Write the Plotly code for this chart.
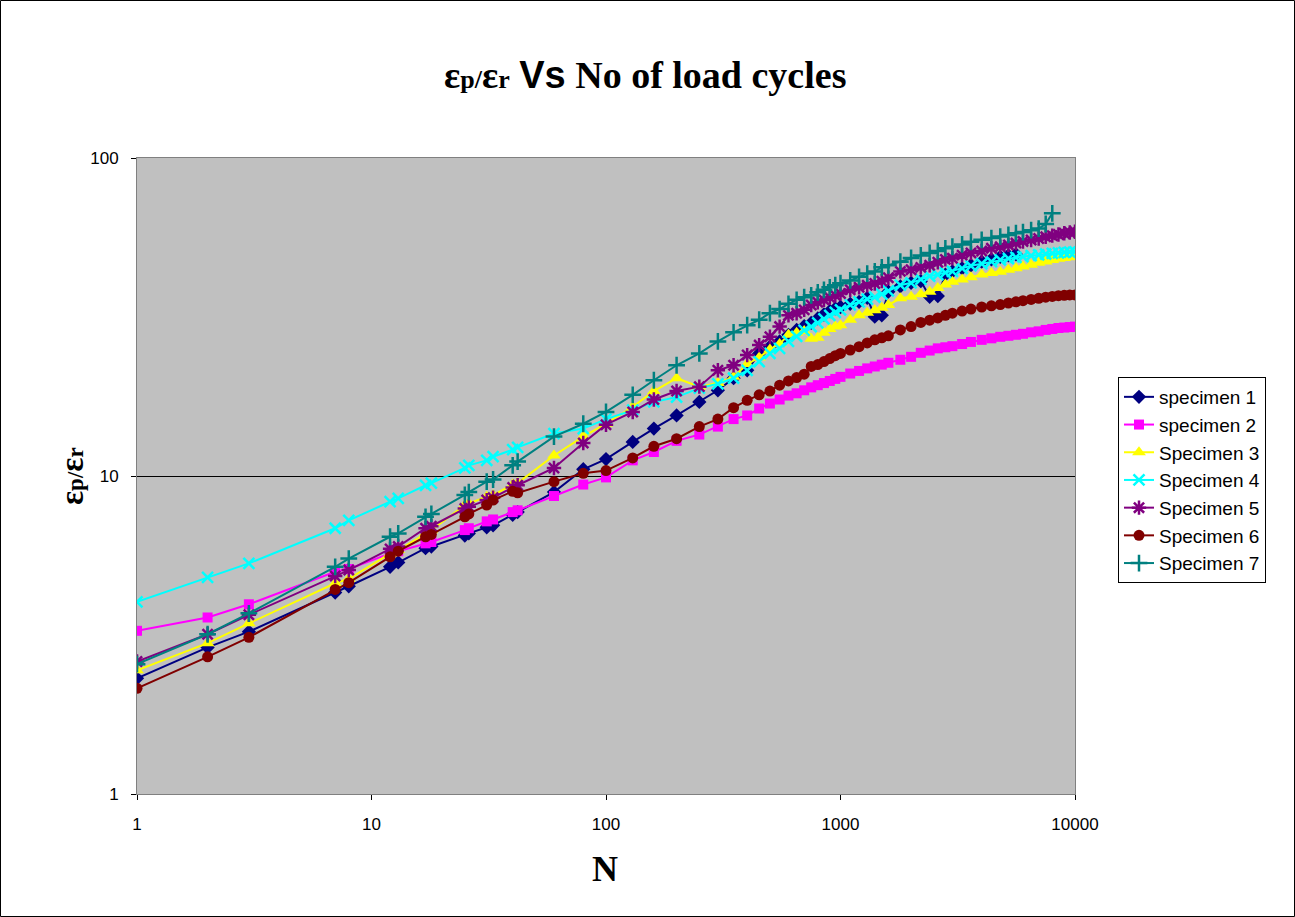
import plotly.graph_objects as go

# Load cycle counts at which the strain ratio was recorded
cycles = [1, 2, 3, 7, 8, 12, 13, 17, 18, 25, 26, 31, 33, 40, 42,
          60, 80, 100, 130, 160, 200, 250, 300, 350, 400, 450, 500,
          550, 600, 650, 700, 750, 800, 850, 900, 950, 1000,
          1100, 1200, 1300, 1400, 1500, 1600, 1800, 2000, 2200, 2400,
          2600, 2800, 3000, 3300, 3600, 4000, 4400, 4800, 5200, 5600,
          6000, 6500, 7000, 7500, 8000, 8500, 9000, 9500, 10000]

specimen_1 = [2.31, 2.89, 3.24, 4.3, 4.5, 5.18, 5.35, 5.93, 6.0, 6.5, 6.6, 6.9, 7.0, 7.55, 7.7,
              8.9, 10.5, 11.3, 12.8, 14.1, 15.5, 17.1, 18.6, 20.3, 21.5, 24.3, 25.5,
              26.5, 27.8, 28.8, 29.6, 30.3, 31.3, 32.2, 33.0, 33.6, 34.0,
              34.8, 35.3, 36.3, 31.7, 32.0, 38.0, 39.5, 40.5, 41.0, 36.6,
              36.8, 43.0, 44.0, 45.0, 46.0, 47.2, 48.0, 48.9, 49.4, 49.8]

specimen_2 = [3.26, 3.59, 3.95, 5.0, 5.1, 5.71, 5.8, 6.14, 6.2, 6.76, 6.85, 7.2, 7.3, 7.7, 7.8,
              8.65, 9.4, 9.9, 11.2, 11.9, 12.9, 13.5, 14.3, 15.1, 15.5, 16.3, 16.9,
              17.4, 17.9, 18.2, 18.6, 19.0, 19.3, 19.6, 19.9, 20.2, 20.5,
              21.0, 21.4, 21.8, 22.1, 22.4, 22.7, 23.2, 23.7, 24.4, 24.8,
              25.2, 25.4, 25.6, 26.0, 26.4, 26.8, 27.1, 27.4, 27.6, 27.8,
              28.0, 28.3, 28.5, 28.8, 29.0, 29.2, 29.3, 29.4, 29.5]

specimen_3 = [2.45, 2.98, 3.44, 4.6, 4.75, 5.7, 5.85, 6.6, 6.75, 8.1, 8.2, 8.6, 8.7, 9.4, 9.5,
              11.6, 13.3, 14.6, 16.5, 18.5, 20.3, 19.1, 19.6, 20.5, 22.5, 23.6, 25.0,
              26.0, 27.8, 28.2, 28.6, 27.0, 27.2, 28.2, 29.0, 29.5, 29.8,
              31.0, 32.0, 32.6, 33.2, 33.8, 34.5, 36.2, 36.6, 37.3, 38.0,
              39.0, 40.0, 40.8, 41.5, 42.2, 43.0, 43.5, 43.9, 44.5, 45.0,
              45.6, 46.2, 46.8, 47.3, 47.8, 48.2, 48.5, 48.7, 48.9]

specimen_4 = [4.02, 4.80, 5.31, 6.85, 7.25, 8.3, 8.5, 9.35, 9.5, 10.6, 10.8, 11.2, 11.5, 12.1, 12.3,
              13.6, 14.1, 15.1, 16.1, 17.1, 17.7, 18.9, 19.5, 20.3, 21.5, 22.9, 24.3,
              25.2, 26.5, 27.5, 28.7, 29.5, 30.3, 31.2, 32.0, 32.7, 33.3,
              34.5, 35.3, 36.0, 36.5, 37.3, 38.2, 39.8, 40.5, 41.5, 42.5,
              43.0, 43.6, 44.0, 45.0, 45.8, 46.5, 47.2, 47.8, 48.3, 48.7,
              49.0, 49.3, 49.6, 49.9, 50.1, 50.3, 50.5, 50.6, 50.7]

specimen_5 = [2.61, 3.18, 3.66, 4.85, 5.06, 5.9, 6.0, 6.85, 6.95, 7.9, 8.0, 8.4, 8.55, 9.2, 9.35,
              10.6, 12.7, 14.5, 15.9, 17.4, 18.5, 19.1, 21.5, 22.3, 24.0, 25.8, 27.4,
              29.5, 32.0, 32.5, 33.3, 34.5, 35.2, 35.8, 36.4, 37.0, 37.5,
              38.5, 39.2, 39.8, 40.3, 41.0, 42.0, 44.0, 44.5, 45.3, 46.0,
              47.0, 48.0, 48.4, 49.5, 50.3, 51.0, 52.0, 52.6, 53.3, 54.0,
              54.6, 55.2, 55.8, 56.5, 57.0, 57.5, 58.0, 58.3, 58.6]

specimen_6 = [2.15, 2.70, 3.11, 4.40, 4.62, 5.57, 5.8, 6.44, 6.55, 7.44, 7.6, 8.1, 8.4, 8.95, 8.85,
              9.6, 10.2, 10.4, 11.4, 12.4, 13.1, 14.3, 15.1, 16.4, 17.3, 18.0, 18.5,
              19.3, 19.9, 20.4, 20.9, 22.1, 22.4, 22.9, 23.4, 23.9, 24.3,
              24.9, 25.5, 26.2, 26.8, 27.2, 27.6, 28.8, 29.5, 30.4, 30.9,
              31.4, 32.0, 32.5, 33.0, 33.5, 34.0, 34.3, 34.6, 35.0, 35.3,
              35.6, 35.9, 36.2, 36.5, 36.7, 36.9, 37.0, 37.1, 37.1]

specimen_7 = [2.56, 3.18, 3.70, 5.18, 5.5, 6.44, 6.6, 7.44, 7.6, 8.72, 8.9, 9.6, 9.75, 10.8, 11.1,
              13.3, 14.6, 15.9, 18.0, 20.0, 22.3, 24.3, 26.5, 28.3, 29.8, 31.0, 32.5,
              33.5, 34.8, 35.8, 36.5, 37.0, 37.8, 38.5, 39.2, 39.8, 40.4,
              41.2, 42.3, 43.3, 44.0, 45.3, 46.0, 47.2, 48.5, 49.4, 50.3,
              51.0, 52.0, 52.6, 53.5, 54.5, 55.3, 56.0, 56.6, 57.3, 58.0,
              58.5, 59.3, 60.0, 62.0, 67.0]

series = [
    ("specimen 1", specimen_1, "#000080", "diamond", 11),
    ("specimen 2", specimen_2, "#FF00FF", "square", 10),
    ("Specimen 3", specimen_3, "#FFFF00", "triangle-up", 12),
    ("Specimen 4", specimen_4, "#00FFFF", "x-thin-open", 11),
    ("Specimen 5", specimen_5, "#800080", "asterisk-open", 12),
    ("Specimen 6", specimen_6, "#800000", "circle", 11),
    ("Specimen 7", specimen_7, "#008080", "cross-thin-open", 12),
]

fig = go.Figure()
for name, vals, color, symbol, size in series:
    is_open = symbol.endswith("-open")
    fig.add_trace(go.Scatter(
        x=cycles[:len(vals)], y=vals, name=name, mode="lines+markers",
        line=dict(color=color, width=2),
        marker=dict(symbol=symbol, size=size, color=color,
                    line=dict(color=color, width=2.5 if is_open else 0)),
    ))

serif = "Liberation Serif, Times New Roman, serif"
sans = "Liberation Sans, Arial, sans-serif"

L, R, T, B = 137, 1075, 158, 794
W, H = 1295, 917
pw, ph = R - L, B - T

title_html = (
    "ε<span style=\"font-size:26px\">p/</span>ε<span style=\"font-size:26px\">r</span>"
    " <span style=\"font-family:Liberation Sans\">Vs</span> No of load cycles"
)
ylab_html = "ε<span style=\"font-size:23px\">p/</span>ε<span style=\"font-size:23px\">r</span>"

fig.update_layout(
    width=W, height=H,
    margin=dict(l=L, r=W - R, t=T, b=H - B),
    paper_bgcolor="white",
    plot_bgcolor="#C0C0C0",
    showlegend=True,
    legend=dict(
        x=(1118 - L) / pw, y=(B - 377) / ph, xanchor="left", yanchor="top",
        bgcolor="white", bordercolor="black", borderwidth=1,
        font=dict(family=sans, size=19, color="black"),
        tracegroupgap=0,
    ),
    annotations=[
        dict(text="<b>" + title_html + "</b>", xref="paper", yref="paper",
             x=(645 - L) / pw, y=(B - 75) / ph, xanchor="center", yanchor="middle",
             showarrow=False, font=dict(family=serif, size=38, color="black")),
        dict(text="<b>N</b>", xref="paper", yref="paper",
             x=(605 - L) / pw, y=(B - 869) / ph, xanchor="center", yanchor="middle",
             showarrow=False, font=dict(family=serif, size=36, color="black")),
        dict(text="<b>" + ylab_html + "</b>", xref="paper", yref="paper",
             x=(72 - L) / pw, y=(B - 476) / ph, xanchor="center", yanchor="middle",
             textangle=-90, showarrow=False,
             font=dict(family=serif, size=33, color="black")),
    ],
    shapes=[
        dict(type="rect", xref="paper", yref="paper",
             x0=(0.5 - L) / pw, x1=(W - 0.5 - L) / pw,
             y0=(B - (H - 0.5)) / ph, y1=(B - 0.5) / ph,
             line=dict(color="black", width=1), fillcolor="rgba(0,0,0,0)", layer="below"),
    ],
)

fig.update_xaxes(
    type="log", range=[0, 4],
    tickvals=[1, 10, 100, 1000, 10000], ticktext=["1", "10", "100", "1000", "10000"],
    showgrid=False, zeroline=False,
    showline=True, mirror=True, linecolor="#808080", linewidth=1,
    ticks="outside", ticklen=5, tickcolor="black", ticklabelstandoff=10,
    tickfont=dict(family=sans, size=17, color="black"),
)
fig.update_yaxes(
    type="log", range=[0, 2],
    tickvals=[1, 10, 100], ticktext=["1", "10", "100"],
    showgrid=True, gridcolor="black", gridwidth=1, zeroline=False,
    showline=True, mirror=True, linecolor="#808080", linewidth=1,
    ticks="outside", ticklen=5, tickcolor="black", ticklabelstandoff=9,
    tickfont=dict(family=sans, size=17, color="black"),
)

fig.write_html("out.html")
